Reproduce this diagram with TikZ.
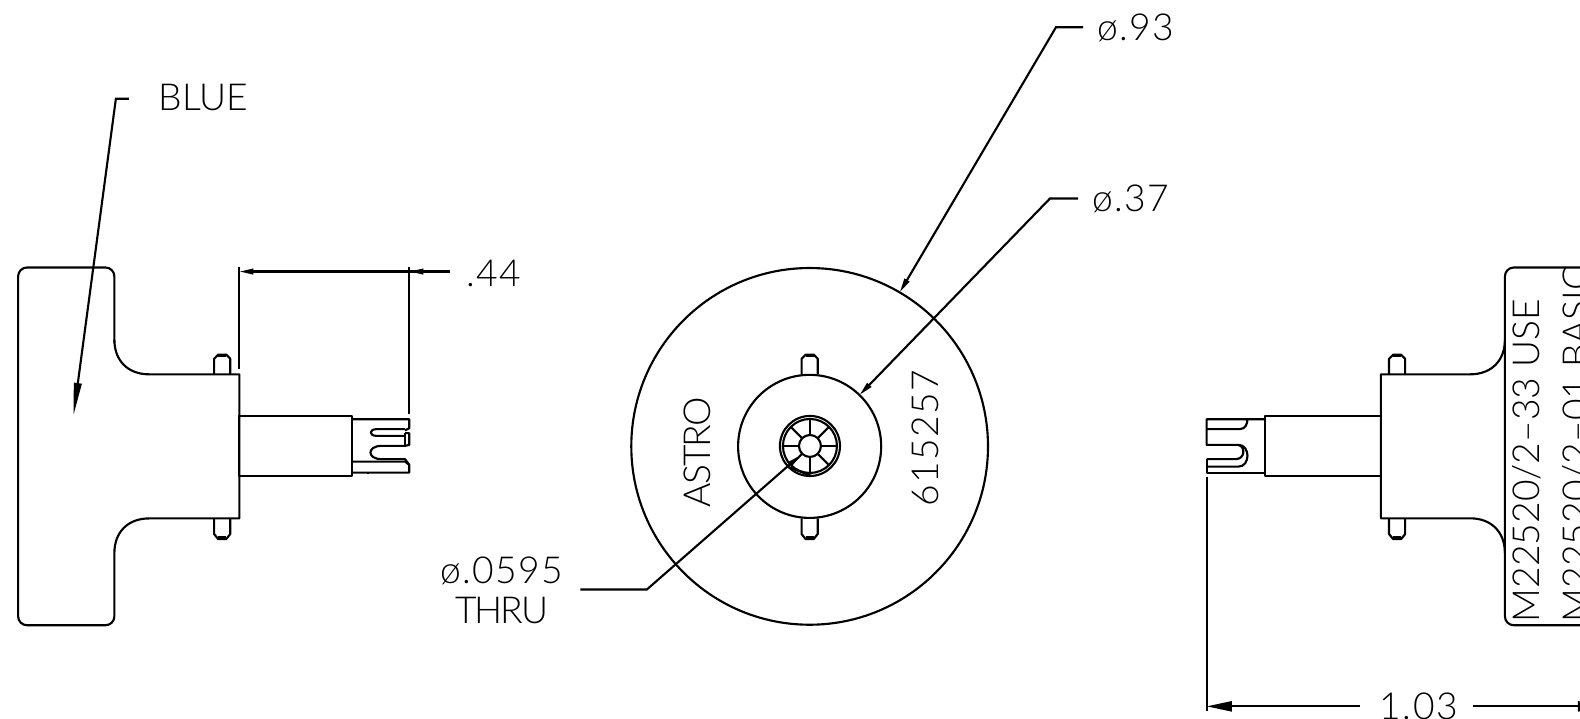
\documentclass[tikz,border=0pt]{standalone}
\usepackage{amsmath}
\usepackage{fontspec}
\setsansfont{Lato}[UprightFont=* Light]
\newfontfamily\cadwide{Lato}[UprightFont=* Light,LetterSpace=4]
\newfontfamily\cadtight{Lato}[UprightFont=* Light,LetterSpace=-5]
\usetikzlibrary{arrows.meta}
\tikzset{
    part/.style={line width=0.6pt, line join=round},
    leader/.style={line width=0.6pt, -{Stealth[length=0.14cm,width=0.055cm,inset=0pt]}},
    leaderlong/.style={line width=0.6pt, -{Stealth[length=0.32cm,width=0.075cm,inset=0pt]}},
    leaderwide/.style={line width=0.6pt, -{Stealth[length=0.25cm,width=0.10cm,inset=0pt]}},
    cadtext/.style={inner sep=0pt, font=\sffamily\fontsize{10.5}{11.4}\selectfont, align=center}
}
\begin{document}
\begin{tikzpicture}[x=0.01cm,y=-0.01cm]
    \useasboundingbox (0,0) rectangle (1568,713.5);
    \clip (0,0) rectangle (1568,713.5);
    % left view
    \draw[part, rounded corners=2.5pt](113.5,340)--(113.5,265.5)--(18,265.5)--(18,620.5)--(113.5,620.5)--(113.5,549);
    \draw[part](113.5,337) .. controls (113.5,358) and (127,371.5) .. (148,371.5)--(237.5,371.5)--(237.5,514.5)--(148,514.5) .. controls (127,514.5) and (113.5,528) .. (113.5,549);
    \draw[part](237.5,412.8) rectangle (349,472.4);
    \draw[part](349,416.1)--(406.2,416.1)--(406.2,424.9)--(402,427.2);
    \draw[part](402,425.9)--(373.8,425.9) .. controls (366,425.9) and (366,432.6) .. (373.8,432.6)--(402,432.6);
    \draw[part](402,429.9)--(406.2,429.9)--(406.2,441.5)--(402,442.5)--(378.7,442.5) .. controls (364,442.5) and (364,455.7) .. (378.7,455.7)--(402,455.7)--(406.2,461.4)--(406.2,469)--(349,469);
    \draw[part](402,429.9)--(402,442.5);
    \draw[part](349,458.1)--(402,458.1)--(406.2,461.4);
    \draw[part](365.5,415)--(365.5,417.2);
    \draw[part](365.5,468)--(365.5,470);
    % pins
    \foreach \px in {220.5,803.5,1386.5}{
        \draw[part](\px-8,371.5)--(\px-8,356)--(\px-4,352)--(\px+4,352)--(\px+8,356)--(\px+8,371.5);
        \draw[part](\px-8,514.5)--(\px-8,530)--(\px-4,535)--(\px+4,535)--(\px+8,530)--(\px+8,514.5);
        \draw[part](\px-4,353.5)--(\px+4,353.5);
        \draw[part](\px-4,533)--(\px+4,533);
    }
    % center view
    \draw[part](803.5,443) circle [radius=177];
    \draw[part](803.5,443) circle [radius=71];
    \draw[part](803.8,442.6) circle [radius=29.8];
    \draw[part](803.8,442.6) circle [radius=26.8];
    \draw[part](803.8,442.6) circle [radius=10.9];
    \foreach \ang in {0,45,...,315}{
        \draw[part](803.8,442.6)+(\ang:10.9)--+(\ang:26.8);
    }
    \draw[part](781,463)--(805.5,472.4);
    % right view
    \draw[part, rounded corners=2.5pt](1590,265.5)--(1493.5,265.5)--(1493.5,620.5)--(1590,620.5);
    \draw[part](1493.5,337) .. controls (1493.5,358) and (1480,371.5) .. (1459,371.5)--(1370.4,371.5)--(1370.4,514.4)--(1459,514.4) .. controls (1480,514.4) and (1493.5,528) .. (1493.5,549);
    \draw[part](1255.3,412.8) rectangle (1370.4,472.4);
    \draw[part](1255.3,416.1)--(1197.5,416.1)--(1197.5,441.5)--(1229,441.5) .. controls (1241,441.5) and (1241,463.1) .. (1229,463.1)--(1197.5,463.1);
    \draw[part](1197.5,425.9)--(1230,425.9) .. controls (1236,425.9) and (1238,421) .. (1238,415.5);
    \draw[part](1197.5,455.7)--(1226,455.7) .. controls (1236,455.7) and (1236,443) .. (1229,441.5);
    \draw[part](1197.5,455.7)--(1197.5,469)--(1255.3,469);
    % dimensions
    \coordinate (extLa) at (237.5,265);
    \coordinate (extLb) at (237.5,366);
    \coordinate (extRa) at (406.2,265);
    \coordinate (extRb) at (406.2,411);
    \coordinate (dimEnd) at (447,269.5);
    \coordinate (dimTipL) at (237.5,269.5);
    \coordinate (dimTipR) at (406.2,269.5);
    \draw[part](extLa)--(extLb);
    \draw[part](extRa)--(extRb);
    \draw[leader](dimEnd)--(dimTipL);
    \draw[leader](dimEnd)--(dimTipR);
    \node[cadtext] (dimA) at (490,271){\cadwide .44};
    \coordinate (ext103a) at (1197.5,473.7);
    \coordinate (ext103b) at (1197.5,706);
    \coordinate (dimB) at (1350,701);
    \coordinate (dimBr) at (1462,701);
    \coordinate (dimBtipL) at (1197.5,701);
    \coordinate (dimBtipR) at (1591,701);
    \draw[part](ext103a)--(ext103b);
    \draw[leaderwide](dimB)--(dimBtipL);
    \draw[leaderwide](dimBr)--(dimBtipR);
    \node[cadtext] (dimC) at (1408,701){\cadwide 1.03};
    % leaders
    \coordinate (tipBlue) at (73,412);
    \coordinate (kneeBlue) at (115,98);
    \coordinate (endBlue) at (128,98);
    \draw[leaderlong](endBlue)--(kneeBlue)--(tipBlue);
    \node[cadtext] (labelBlue) at (202,97){BLUE};
    \coordinate (tipBig) at (893,290);
    \coordinate (kneeBig) at (1048,27);
    \coordinate (endBig) at (1075,27);
    \draw[leader](endBig)--(kneeBig)--(tipBig);
    \node[cadtext] (labelBig) at (1127,28){\cadwide ø.93};
    \coordinate (tipHub) at (853,392);
    \coordinate (kneeHub) at (1042,197);
    \coordinate (endHub) at (1070,197);
    \draw[leader](endHub)--(kneeHub)--(tipHub);
    \node[cadtext] (labelHub) at (1122,197){\cadwide ø.37};
    \coordinate (tipThru) at (794,452);
    \coordinate (kneeThru) at (642,585);
    \coordinate (endThru) at (576,585);
    \draw[leader](endThru)--(kneeThru)--(tipThru);
    \node[cadtext] (labelThru) at (498,586){\cadwide ø.0595\\\cadtight THRU};
    % marking
    \node[cadtext, rotate=90] (labelAstro) at (692,449){\cadtight ASTRO};
    \node[cadtext, rotate=90] (labelCode) at (918,435){\cadwide 615257};
    \node[cadtext, rotate=90, anchor=west] (labelUse) at (1515,618){M22520/2--33  USE};
    \node[cadtext, rotate=90, anchor=west] (labelBasic) at (1565,618){M22520/2--01  BASIC};
\end{tikzpicture}
\end{document}
